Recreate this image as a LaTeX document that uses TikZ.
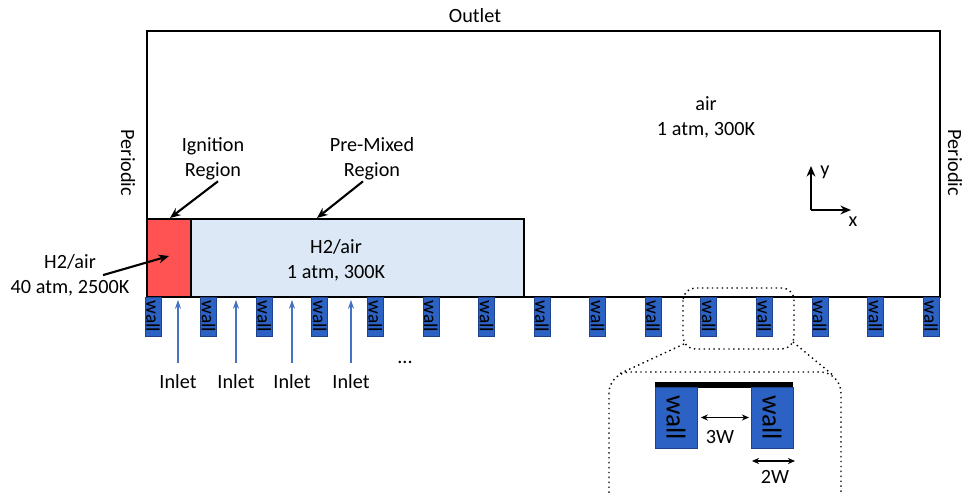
\documentclass[tikz,border=0pt]{standalone}
\usepackage{fontspec}
\setmainfont{Carlito}
\usepackage{tikz}
\usetikzlibrary{calc,arrows.meta,positioning}
\definecolor{cIgn}{RGB}{255,82,82}
\definecolor{cMix}{RGB}{220,232,246}
\definecolor{cWall}{RGB}{44,98,196}
\definecolor{cWallEdge}{RGB}{30,66,140}
\definecolor{cInlet}{RGB}{68,114,196}

\tikzset{
  lbl/.style={font=\fontsize{11.5}{14.2}\selectfont,align=center,inner sep=1pt},
  wallbox/.style={fill=cWall,draw=cWallEdge,line width=0.3pt,rotate=-90,
    minimum width=0.78cm,minimum height=0.32cm,inner sep=0pt,
    font=\fontsize{11}{11}\selectfont},
  bigwall/.style={fill=cWall,draw=cWallEdge,line width=0.4pt,rotate=-90,
    minimum width=1.22cm,minimum height=0.84cm,inner sep=0pt,
    font=\fontsize{15.5}{15.5}\selectfont},
  ptr/.style={line width=1.2pt,-{Stealth[length=6pt,width=5pt]}},
  inarr/.style={cInlet,line width=0.6pt,-{Stealth[length=5pt,width=3.5pt]}},
  dimarr/.style={line width=0.8pt,{Stealth[length=4pt,width=3.5pt]}-{Stealth[length=4pt,width=3.5pt]}},
  zoomline/.style={dotted,line width=0.8pt}
}

\begin{document}
\begin{tikzpicture}[x=0.02cm,y=-0.02cm]
  \useasboundingbox (0,0) rectangle (964,493);
  \clip (0,0) rectangle (964,493);

  % regions
  \fill[cIgn] (147,219) rectangle (191,297);
  \fill[cMix] (191,219) rectangle (524,297);
  \draw[line width=1.5pt] (147,219) rectangle (524,297) (191,219) -- (191,297);
  \draw[line width=1.6pt] (147,31) rectangle (940,297);

  % boundary labels
  \node[lbl] (outlet) at (475,16) {Outlet};
  \node[lbl,rotate=-90] (perL) at (128,163) {Periodic};
  \node[lbl,rotate=-90] (perR) at (955,163) {Periodic};

  \node[lbl] (air) at (706,117) {air\\1 atm, 300K};
  \node[lbl] (mix) at (336,260) {H2/air\\1 atm, 300K};
  \node[lbl] (ignLbl) at (213,159) {Ignition\\Region};
  \node[lbl] (mixLbl) at (372,159) {Pre-Mixed\\Region};
  \node[lbl] (hotLbl) at (70,275) {H2/air\\40 atm, 2500K};

  \coordinate (ignTip) at (170,218);
  \coordinate (mixTip) at (317,218);
  \coordinate (hotTip) at (169,256);
  \draw[ptr] ($(ignLbl.south)+(5,-1)$) -- (ignTip);
  \draw[ptr] ($(mixLbl.south)+(-9,-1)$) -- (mixTip);
  \draw[ptr] ($(hotLbl.north)+(33,23)$) -- (hotTip);

  % axes
  \coordinate (ax0) at (811,210);
  \coordinate (axY) at (811,166);
  \coordinate (axX) at (851,210);
  \draw[line width=1.4pt,-{Stealth[length=6pt,width=5pt]}] (ax0) -- (axY);
  \draw[line width=1.4pt,-{Stealth[length=6pt,width=5pt]}] (ax0) -- (axX);
  \node[lbl] (yLbl) at (825,172) {y};
  \node[lbl] (xLbl) at (853,222) {x};

  % walls
  \foreach \i in {0,...,14}
    \node[wallbox] (w\i) at ({153+55.57*\i},316.5) {wall};

  % inlets
  \foreach \x [count=\k] in {178,236,292,351} {
    \node[lbl] (in\k) at (\x,382) {Inlet};
    \coordinate (inTip\k) at (\x,300);
    \draw[inarr] (\x,363) -- (inTip\k);
  }
  \node[lbl] (dots) at (405,362) {...};

  % zoom inset
  \draw[zoomline,rounded corners=7pt] (683,288) rectangle (794,349);
  \draw[zoomline,rounded corners=12pt] (609,372) rectangle (841,520);
  \draw[zoomline] (684,344) -- (619,374);
  \draw[zoomline] (793,342) -- (834,376);

  \fill (655,382) rectangle (793,387.5);
  \node[bigwall] (bw1) at (676,417.5) {wall};
  \node[bigwall] (bw2) at (772,417.5) {wall};
  \draw[dimarr,shorten <=2pt,shorten >=1pt] (bw1.north) -- (bw2.south);
  \node[lbl] (w3) at (720,437) {3W};
  \coordinate (d2a) at (752,461);
  \coordinate (d2b) at (795,461);
  \draw[dimarr] (d2a) -- (d2b);
  \node[lbl] (w2) at (775,477) {2W};
\end{tikzpicture}
\end{document}
